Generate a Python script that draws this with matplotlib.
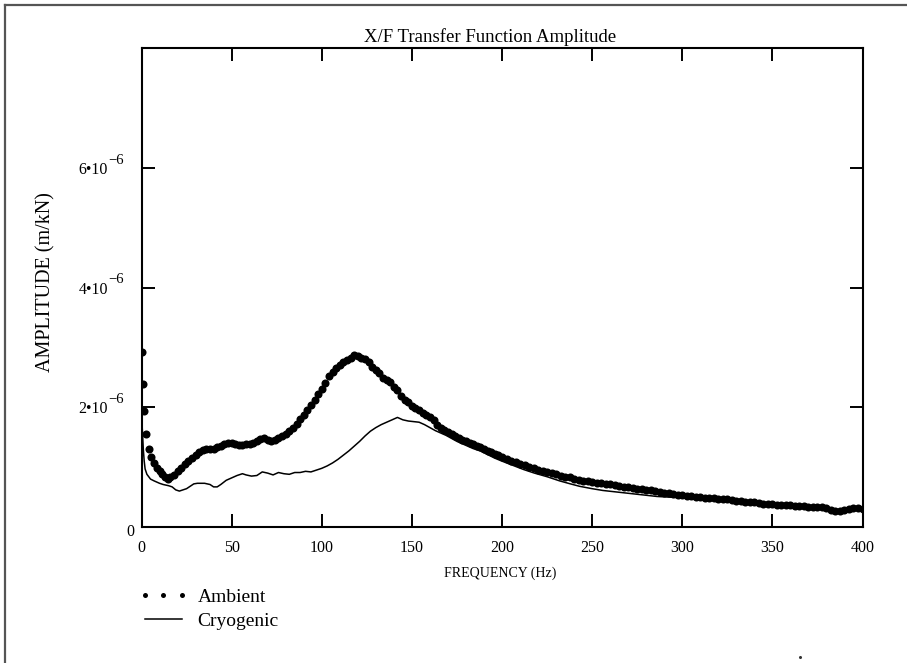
import matplotlib
matplotlib.use("Agg")
import matplotlib.pyplot as plt
from matplotlib.lines import Line2D
from matplotlib.transforms import ScaledTranslation

plt.rcParams['font.family'] = ['Liberation Serif', 'DejaVu Serif']
plt.rcParams['mathtext.fontset'] = 'stix'

# ---- data (amplitude in 1e-6 m/kN) ----
amb_freq = [0.5, 1, 1.5, 2.5, 4, 5.5, 7, 8.5, 10, 11.5, 13, 14.5,
            16, 18, 20, 22, 24, 26, 28, 30, 32, 34, 36, 38, 40, 42, 44, 46, 48, 50,
            52, 54, 56, 58, 60, 62, 64, 66, 68, 70, 72, 74, 76, 78, 80, 82, 84, 86, 88, 90,
            92, 94, 96, 98, 100, 102, 104, 106, 108, 110, 112, 114, 116, 118, 120, 122, 124,
            126, 128, 130, 132, 134, 136, 138, 140, 142, 144, 146, 148, 150, 152, 154, 156,
            158, 160, 162, 164, 166, 168, 170, 172, 174, 176, 178, 180, 182, 184, 186, 188,
            190, 192, 194, 196, 198, 200,
            202.5, 205, 207.5, 210, 212.5, 215, 217.5, 220, 222.5, 225, 227.5, 230, 232.5,
            235, 237.5, 240, 242.5, 245, 247.5, 250, 252.5, 255, 257.5, 260, 262.5, 265,
            267.5, 270, 272.5, 275, 277.5, 280, 282.5, 285, 287.5, 290, 292.5, 295, 297.5,
            300, 302.5, 305, 307.5, 310, 312.5, 315, 317.5, 320, 322.5, 325, 327.5, 330,
            332.5, 335, 337.5, 340, 342.5, 345, 347.5, 350, 352.5, 355, 357.5, 360, 362.5,
            365, 367.5, 370, 372.5, 375, 377.5, 380, 382.5, 385, 387.5, 390, 392.5, 395,
            397.5, 400]
amb_amp = [2.92, 2.38, 1.93, 1.56, 1.30, 1.17, 1.07, 0.99, 0.93, 0.88, 0.84, 0.81,
           0.83, 0.87, 0.93, 0.99, 1.05, 1.10, 1.16, 1.21, 1.26, 1.29, 1.30, 1.30, 1.31,
           1.33, 1.35, 1.38, 1.41, 1.40,
           1.38, 1.37, 1.37, 1.38, 1.39, 1.41, 1.43, 1.47, 1.49, 1.46, 1.44, 1.45, 1.48,
           1.52, 1.55, 1.60, 1.66, 1.72, 1.80, 1.87,
           1.95, 2.04, 2.12, 2.22, 2.30, 2.41, 2.52, 2.59, 2.65, 2.71, 2.75, 2.79, 2.83,
           2.87, 2.86, 2.82, 2.81,
           2.76, 2.67, 2.63, 2.58, 2.49, 2.45, 2.42, 2.33, 2.28, 2.18, 2.12, 2.08, 2.02,
           1.99, 1.95, 1.91,
           1.87, 1.84, 1.78, 1.71, 1.66, 1.62, 1.58, 1.55, 1.52, 1.49, 1.46, 1.43, 1.40,
           1.38, 1.35, 1.33,
           1.30, 1.27, 1.25, 1.22, 1.20, 1.17,
           1.14, 1.11, 1.08, 1.06, 1.03, 1.01, 0.99, 0.96, 0.94, 0.92, 0.90, 0.88, 0.86,
           0.84, 0.83, 0.81, 0.79, 0.77, 0.76, 0.75, 0.74, 0.73, 0.72, 0.71, 0.70, 0.68,
           0.67, 0.66, 0.65, 0.64, 0.63, 0.62, 0.61, 0.60, 0.58, 0.57, 0.56, 0.55, 0.54,
           0.53, 0.52, 0.51, 0.50, 0.50, 0.49, 0.48, 0.48, 0.47, 0.46, 0.46, 0.45, 0.44,
           0.43, 0.42, 0.42, 0.41, 0.40, 0.39, 0.39, 0.38, 0.37, 0.37, 0.36, 0.36, 0.35,
           0.35, 0.35, 0.34, 0.34, 0.34, 0.33, 0.31, 0.29, 0.27, 0.27, 0.29, 0.30, 0.31,
           0.31, 0.30]

cryo_freq = [0, 0.5, 1, 1.5, 2, 3, 4, 5, 7, 10, 12, 15, 17, 19, 21, 23, 25, 27, 29, 31,
             35, 38, 40, 42, 44, 47, 50, 53, 56, 58, 61, 64, 67, 70, 73, 76, 79, 82, 85,
             88, 91, 94, 97, 100, 103, 106, 109, 112, 115, 118, 121, 124, 127, 130, 133,
             136, 139, 142, 145, 148, 151, 154, 157, 160, 163, 166, 169, 172, 175, 178,
             181, 184, 188, 192, 196, 200, 206, 212, 218, 225, 232, 238, 243, 250, 256,
             262, 268, 274, 280, 286, 292, 299, 305, 311, 317, 323, 329, 336, 342, 348,
             354, 360, 366, 373, 379, 383, 386, 390, 394, 398, 400]
cryo_amp = [1.90, 1.60, 1.30, 1.10, 0.97, 0.88, 0.84, 0.80, 0.77, 0.73, 0.71, 0.69,
            0.67, 0.62, 0.60, 0.62, 0.64, 0.68, 0.72, 0.73, 0.73, 0.71, 0.67, 0.67, 0.71,
            0.78, 0.82, 0.86, 0.89, 0.87, 0.85, 0.86, 0.92, 0.90, 0.87, 0.91, 0.89, 0.88,
            0.91, 0.91, 0.93, 0.92, 0.95, 0.98, 1.02, 1.07, 1.13, 1.20, 1.27, 1.35, 1.43,
            1.52, 1.60, 1.66, 1.71, 1.75, 1.79, 1.83, 1.79, 1.77, 1.76, 1.75, 1.71, 1.66,
            1.61, 1.57, 1.53, 1.48, 1.43, 1.39, 1.35, 1.31, 1.27, 1.21, 1.15, 1.10, 1.03,
            0.96, 0.90, 0.84, 0.77, 0.72, 0.68, 0.64, 0.61, 0.59, 0.57, 0.55, 0.53, 0.51,
            0.50, 0.49, 0.47, 0.46, 0.45, 0.44, 0.42, 0.41, 0.39, 0.37, 0.36, 0.35, 0.34,
            0.33, 0.31, 0.29, 0.27, 0.28, 0.30, 0.31, 0.30]

x_ticks = [0, 50, 100, 150, 200, 250, 300, 350, 400]
y_ticks = [0, 2e-6, 4e-6, 6e-6]
y_tick_mantissas = ['0', '2\u202210', '4\u202210', '6\u202210']
y_tick_exponent = '\u22126'

W, H = 907, 663
fig = plt.figure(figsize=(W / 100, H / 100), dpi=100)
ax = fig.add_axes([141.5 / W, 1 - 527 / H, 721 / W, 479 / H])

scale = 1e-6
ax.plot(amb_freq, [v * scale for v in amb_amp], linestyle='none', marker='o',
        markersize=5.8, color='black', markeredgewidth=0, label='Ambient')
ax.plot(cryo_freq, [v * scale for v in cryo_amp], color='black', linewidth=1.1,
        label='Cryogenic')

ax.set_xlim(0, 400)
ax.set_ylim(0, 8e-6)
ax.set_xticks(x_ticks)
ax.set_xticklabels([str(t) for t in x_ticks])
ax.set_yticks(y_ticks)
ax.set_yticklabels(y_tick_mantissas)

for s in ax.spines.values():
    s.set_linewidth(1.5)
ax.tick_params(axis='both', direction='in', length=9.5, width=1.4,
               top=True, right=True, labelsize=11.5)
ax.tick_params(axis='x', pad=9)
ax.tick_params(axis='y', pad=24)
# the "0" label sits closer to the axis
lbl0 = ax.get_yticklabels()[0]
lbl0.set_transform(lbl0.get_transform() + ScaledTranslation(19 / 72, -2 / 72, fig.dpi_scale_trans))
# exponents of the 10^-6 labels
for t in y_ticks[1:]:
    ax.annotate(y_tick_exponent, xy=(0, t), xycoords=ax.get_yaxis_transform(),
                xytext=(-24, 5.5), textcoords='offset points', ha='left', va='center',
                fontsize=10.5)

fig.text(490 / W, 1 - 42 / H, 'X/F Transfer Function Amplitude', ha='center',
         va='baseline', fontsize=13.5)
fig.text(46 / W, 1 - 282 / H, 'AMPLITUDE (m/kN)', rotation=90, ha='center',
         va='center', fontsize=14.5)
fig.text(500 / W, 1 - 573 / H, 'FREQUENCY (Hz)', ha='center', va='center', fontsize=10)

leg = fig.legend(loc='upper left', bbox_to_anchor=(139 / W, 1 - 588 / H), frameon=False,
                 fontsize=14, numpoints=3, handlelength=2.5, handletextpad=0.5,
                 labelspacing=0.35, borderpad=0, borderaxespad=0, markerscale=0.62)

# page border from the scanned figure
fig.add_artist(Line2D([4.5 / W, 1], [1 - 5 / H, 1 - 5 / H], transform=fig.transFigure,
                      color='#555555', linewidth=1.6))
fig.add_artist(Line2D([4.5 / W, 4.5 / W], [0, 1 - 5 / H], transform=fig.transFigure,
                      color='#555555', linewidth=1.6))
fig.add_artist(Line2D([800 / W], [1 - 657 / H], transform=fig.transFigure, marker='o',
                      markersize=1.2, color='#333333', linestyle='none'))

fig.savefig('out.png', dpi=100)
